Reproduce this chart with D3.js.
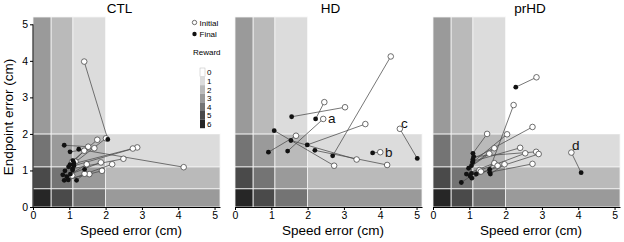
<!DOCTYPE html>
<html><head><meta charset="utf-8">
<script src="https://cdn.jsdelivr.net/npm/d3@7/dist/d3.min.js"></script>
<style>body{margin:0;background:#fff;} svg{display:block;font-family:"Liberation Sans",Arial,Helvetica,sans-serif;}</style>
</head><body>
<script>
// ---- data ----
const panelTitles = ["CTL", "HD", "prHD"];
const tickValues = [0, 1, 2, 3, 4, 5];
const zoneEdges = [0, 0.5, 1.1, 2.0];
const rewardLevels = [0, 1, 2, 3, 4, 5, 6];
const rewardColors = ["#ffffff", "#dcdcdc", "#bababa", "#9a9a9a", "#747474", "#4a4a4a", "#262626"];

const ctlInitial = [[1.41,3.98],[2.01,1.88],[1.77,1.84],[2.87,1.63],[2.75,1.60],[4.15,1.09],[1.52,1.65],[1.69,1.61],[1.41,1.54],[1.08,1.24],[1.17,1.24],[1.48,1.17],[1.87,1.22],[2.49,1.32],[2.18,1.17],[1.90,0.99],[1.55,0.90],[1.42,0.91],[1.08,0.86]];
const ctlFinal   = [[2.06,1.85],[1.13,1.20],[1.10,1.27],[1.13,1.13],[1.02,1.16],[1.26,1.58],[0.86,1.69],[1.02,1.51],[0.98,1.10],[0.88,0.99],[1.09,1.01],[0.93,0.83],[1.03,0.90],[1.09,1.05],[0.97,0.74],[0.86,0.73],[1.42,1.03],[1.20,0.73],[0.82,0.88]];

const hdInitial = [[4.29,4.12],[2.46,2.87],[3.03,2.73],[2.43,2.41],[3.59,2.27],[4.54,2.14],[1.68,1.95],[4.00,1.50],[2.73,1.13],[3.35,1.30],[4.19,1.15]];
const hdFinal   = [[2.69,1.40],[2.22,2.41],[1.56,2.47],[1.45,1.53],[1.99,1.70],[5.02,1.33],[0.92,1.50],[3.79,1.48],[1.08,2.09],[1.54,1.82],[2.20,1.55]];

const prInitial = [[2.85,3.55],[3.81,1.49],[2.22,2.79],[2.74,2.19],[1.49,2.00],[2.04,1.99],[1.69,1.61],[2.40,1.62],[1.55,1.46],[2.54,1.47],[2.84,1.51],[2.91,1.45],[1.69,1.20],[1.97,1.17],[1.78,1.13],[2.74,1.18],[1.28,1.01],[1.32,0.97]];
const prFinal   = [[2.28,3.28],[4.08,0.94],[1.56,1.03],[1.10,1.31],[1.10,1.47],[1.09,1.22],[1.06,1.13],[1.10,1.25],[0.98,1.06],[1.06,0.92],[1.12,1.38],[1.19,0.90],[0.92,0.90],[1.58,0.90],[1.07,0.79],[1.56,0.95],[0.78,0.67],[1.02,0.85]];

const hdLabels = [["a",2.56,2.31],["b",4.13,1.38],["c",4.57,2.16]];
const prLabels = [["d",3.83,1.56]];

const panelData = [
  {initial: ctlInitial, final: ctlFinal, labels: []},
  {initial: hdInitial, final: hdFinal, labels: hdLabels},
  {initial: prInitial, final: prFinal, labels: prLabels}
];

// ---- layout ----
const W = 624, H = 242;
const panelLeft = [33, 235, 433], pw = 187;
const xMax = 5.15, yMax = 5.2;
const titleX = [119.5, 330.5, 530];

const svg = d3.select("body").append("svg").attr("width", W).attr("height", H);
const y = d3.scaleLinear().domain([0, yMax]).range([207, 17]);
const color = d3.scaleOrdinal().domain(rewardLevels).range(rewardColors);
const fmt = d3.format("d");

panelData.forEach((pd, i) => {
  const x = d3.scaleLinear().domain([0, xMax]).range([panelLeft[i], panelLeft[i] + pw]);
  const g = svg.append("g");
  const xe = zoneEdges.concat([xMax]), ye = zoneEdges.concat([yMax]);
  const cells = [];
  for (let ix = 0; ix < 4; ix++) for (let iy = 0; iy < 4; iy++) {
    cells.push({x0: xe[ix], x1: xe[ix+1], y0: ye[iy], y1: ye[iy+1], r: (3 - ix) + (3 - iy)});
  }
  g.selectAll("rect.zone").data(cells).join("rect").attr("class", "zone")
    .attr("x", d => x(d.x0)).attr("width", d => x(d.x1) - x(d.x0))
    .attr("y", d => y(d.y1)).attr("height", d => y(d.y0) - y(d.y1))
    .attr("fill", d => color(d.r))
    .attr("stroke", d => d.r === 0 ? "none" : "#f4f4f4").attr("stroke-width", 0.8);

  g.selectAll("line.pair").data(pd.initial.map((p, k) => [p, pd.final[k]])).join("line")
    .attr("x1", d => x(d[0][0])).attr("y1", d => y(d[0][1]))
    .attr("x2", d => x(d[1][0])).attr("y2", d => y(d[1][1]))
    .attr("stroke", "#4a4a4a").attr("stroke-width", 0.75);
  g.selectAll("circle.init").data(pd.initial).join("circle")
    .attr("cx", d => x(d[0])).attr("cy", d => y(d[1])).attr("r", 2.8)
    .attr("fill", "#fff").attr("stroke", "#333").attr("stroke-width", 0.7);
  g.selectAll("circle.fin").data(pd.final).join("circle")
    .attr("cx", d => x(d[0])).attr("cy", d => y(d[1])).attr("r", 2.4)
    .attr("fill", "#111");

  g.selectAll("text.lab").data(pd.labels).join("text")
    .attr("x", d => x(d[1])).attr("y", d => y(d[2]))
    .attr("font-size", 13.5).attr("fill", "#111").text(d => d[0]);

  const xa = svg.append("g").attr("transform", `translate(0,${y(0)})`)
    .call(d3.axisBottom(x).tickValues(tickValues).tickFormat(fmt).tickSize(3).tickSizeOuter(0).tickPadding(2));
  xa.selectAll("text").attr("font-size", 10.5).attr("fill", "#000").attr("font-family", null);
  xa.select(".domain").attr("stroke", "#000");
  svg.append("text").attr("x", panelLeft[i] + 98).attr("y", 235).attr("text-anchor", "middle")
    .attr("font-size", 13.5).attr("fill", "#000").text("Speed error (cm)");
  svg.append("text").attr("x", titleX[i]).attr("y", 13).attr("text-anchor", "middle")
    .attr("font-size", 13.5).attr("fill", "#000").text(panelTitles[i]);

  if (i === 0) {
    const ya = svg.append("g").attr("transform", `translate(${panelLeft[0]},0)`)
      .call(d3.axisLeft(y).tickValues(tickValues).tickFormat(fmt).tickSize(3).tickSizeOuter(0).tickPadding(2));
    ya.selectAll("text").attr("font-size", 10.5).attr("fill", "#000").attr("font-family", null);
    ya.select(".domain").attr("d", `M0,${y(0)}V${y(5)}`).attr("stroke", "#000");
    svg.append("text").attr("transform", `translate(13,117) rotate(-90)`).attr("text-anchor", "middle")
      .attr("font-size", 13.5).attr("fill", "#000").text("Endpoint error (cm)");

    const lg = svg.append("g").attr("fill", "#000");
    lg.append("circle").attr("cx", 194.5).attr("cy", 22.5).attr("r", 2.2).attr("fill", "#fff").attr("stroke", "#333").attr("stroke-width", 0.7);
    lg.append("text").attr("x", 199.5).attr("y", 25.5).attr("font-size", 8).text("Initial");
    lg.append("circle").attr("cx", 194.5).attr("cy", 34).attr("r", 2.2).attr("fill", "#111");
    lg.append("text").attr("x", 199.5).attr("y", 37).attr("font-size", 8).text("Final");
    lg.append("text").attr("x", 193).attr("y", 55).attr("font-size", 8).text("Reward");
    const bh = 8.6;
    lg.selectAll("rect.leg").data(rewardLevels).join("rect")
      .attr("x", 200).attr("y", d => 68 + d * bh).attr("width", 5).attr("height", bh)
      .attr("fill", d => color(d)).attr("stroke", d => d === 0 ? "#bbb" : "none").attr("stroke-width", 0.5);
    lg.selectAll("text.leg").data(rewardLevels).join("text")
      .attr("x", 207).attr("y", d => 68 + d * bh + bh / 2 + 3).attr("font-size", 8).text(d => d);
  }
});
</script>
</body></html>
